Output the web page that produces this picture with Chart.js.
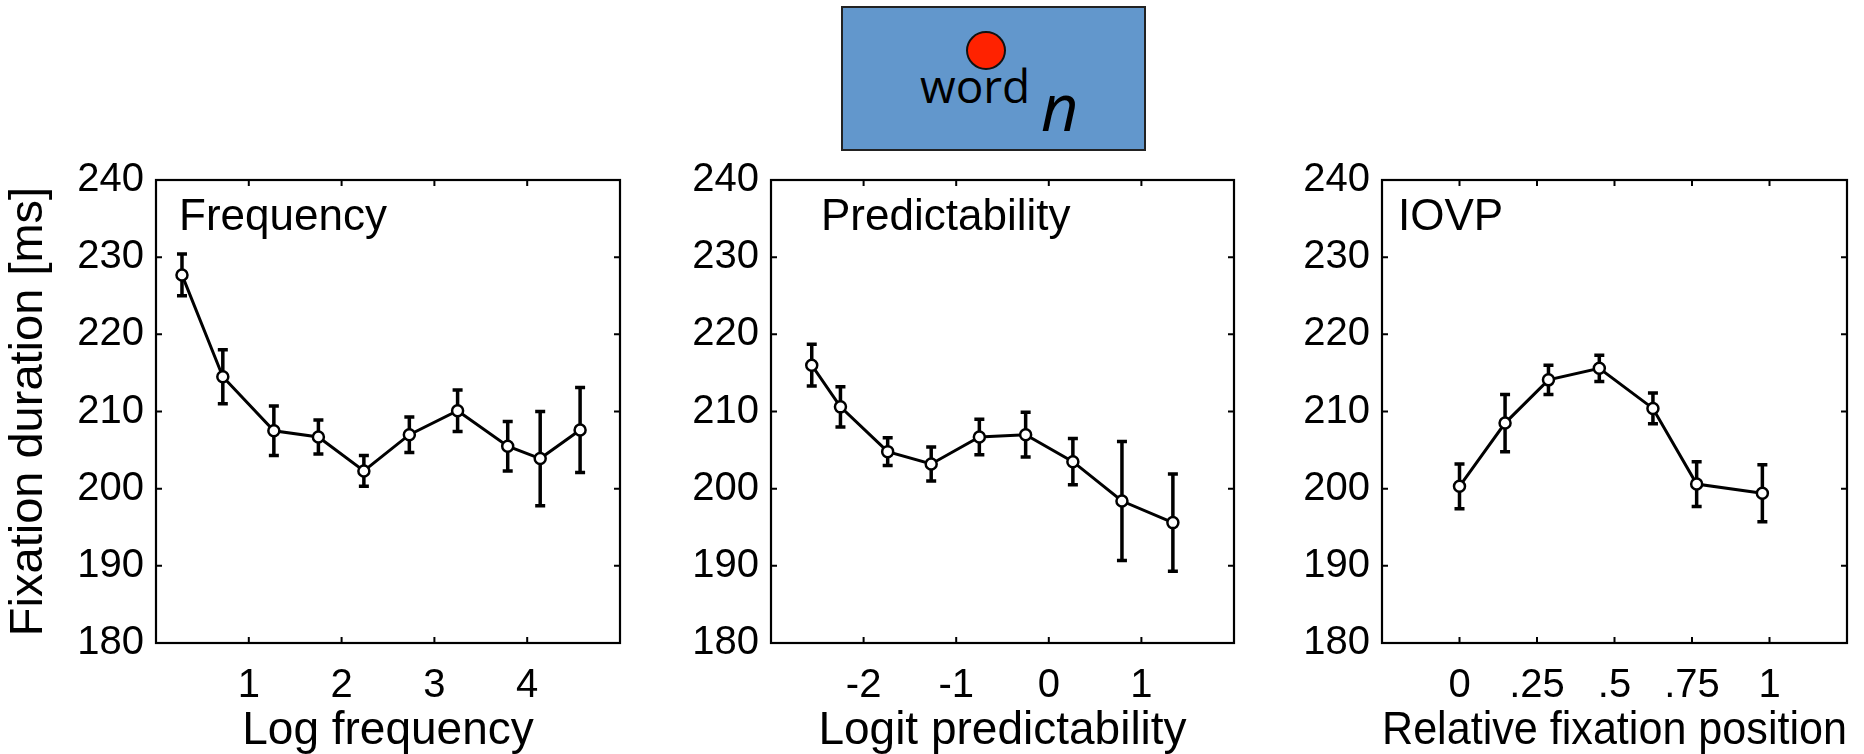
<!DOCTYPE html>
<html>
<head>
<meta charset="utf-8">
<script src="https://cdn.jsdelivr.net/npm/chart.js@4.4.1/dist/chart.umd.min.js"></script>
<style>
  html, body { margin:0; padding:0; background:#fff; width:1864px; height:754px; overflow:hidden; }
  body { position:relative; font-family:'Liberation Sans', Arial, sans-serif; }
  .panel { position:absolute; top:130px; height:624px; }
  .panel canvas { display:block; }
  #wordbox { position:absolute; left:841px; top:6px; width:305px; height:145px; box-sizing:border-box;
             background:#6297CC; border:2px solid #222; }
  #dot { position:absolute; left:966px; top:31px; width:40px; height:39px; box-sizing:border-box;
         border-radius:50%; background:#FF2200; border:2px solid #111; }
  #word { position:absolute; left:920px; top:62px; font-family:'Open Sans', 'Noto Sans', sans-serif;
          font-size:46px; line-height:1; color:#000; white-space:nowrap; }
  #wordn { position:absolute; left:1041px; top:74px; font-family:'Open Sans', 'Noto Sans', sans-serif;
           font-style:italic; font-size:65px; line-height:1; color:#000; }
</style>
</head>
<body>
<div id="wordbox"></div>
<div id="dot"></div>
<div id="word">word</div>
<div id="wordn">n</div>

<div class="panel" style="left:0px;width:640px;"><canvas id="c1" width="640" height="624"></canvas></div>
<div class="panel" style="left:640px;width:620px;"><canvas id="c2" width="620" height="624"></canvas></div>
<div class="panel" style="left:1260px;width:604px;"><canvas id="c3" width="604" height="624"></canvas></div>

<script>
// ---------- DATA ----------
const yTicks = [180, 190, 200, 210, 220, 230, 240];
const yTitle = 'Fixation duration [ms]';

// Panel 1: Frequency
const freqTitle = 'Frequency';
const freqAxisTitle = 'Log frequency';
const freqTickValues = [1, 2, 3, 4];
const freqTickLabels = ['1', '2', '3', '4'];
const freqX   = [0.28, 0.72, 1.27, 1.75, 2.24, 2.73, 3.25, 3.79, 4.14, 4.57];
const freqY   = [227.7, 214.5, 207.5, 206.7, 202.3, 207.0, 210.1, 205.5, 203.9, 207.6];
const freqErr = [2.7, 3.5, 3.2, 2.2, 2.0, 2.3, 2.7, 3.2, 6.1, 5.5];

// Panel 2: Predictability
const predTitle = 'Predictability';
const predAxisTitle = 'Logit predictability';
const predTickValues = [-2, -1, 0, 1];
const predTickLabels = ['-2', '-1', '0', '1'];
const predX   = [-2.56, -2.25, -1.74, -1.27, -0.75, -0.25, 0.26, 0.79, 1.34];
const predY   = [216.0, 210.6, 204.8, 203.2, 206.7, 207.0, 203.5, 198.4, 195.6];
const predErr = [2.7, 2.6, 1.8, 2.2, 2.3, 2.9, 3.0, 7.7, 6.3];

// Panel 3: IOVP
const iovpTitle = 'IOVP';
const iovpAxisTitle = 'Relative fixation position';
const iovpTickValues = [0, 0.25, 0.5, 0.75, 1];
const iovpTickLabels = ['0', '.25', '.5', '.75', '1'];
const iovpX   = [0.0, 0.147, 0.287, 0.451, 0.624, 0.765, 0.977];
const iovpY   = [200.3, 208.5, 214.1, 215.6, 210.4, 200.6, 199.4];
const iovpErr = [2.9, 3.7, 1.9, 1.7, 2.0, 2.9, 3.7];

// ---------- STYLE / PLUGINS ----------
Chart.defaults.font.family = "'Liberation Sans', Arial, sans-serif";
Chart.defaults.color = '#000';

const errorBars = {
  id: 'errorBars',
  beforeDatasetsDraw(chart) {
    const ctx = chart.ctx;
    const xs = chart.scales.x, ys = chart.scales.y;
    chart.data.datasets.forEach(ds => {
      const errs = ds.errors || [];
      ctx.save();
      ctx.strokeStyle = '#000';
      ctx.lineWidth = 3.5;
      ds.data.forEach((p, i) => {
        const e = errs[i];
        const px = xs.getPixelForValue(p.x);
        const top = ys.getPixelForValue(p.y + e);
        const bot = ys.getPixelForValue(p.y - e);
        ctx.beginPath();
        ctx.moveTo(px, top); ctx.lineTo(px, bot);
        ctx.moveTo(px - 5, top); ctx.lineTo(px + 5, top);
        ctx.moveTo(px - 5, bot); ctx.lineTo(px + 5, bot);
        ctx.stroke();
      });
      ctx.restore();
    });
  }
};

const frameBox = {
  id: 'frameBox',
  afterDraw(chart, args, opts) {
    const ctx = chart.ctx;
    const a = chart.chartArea;
    const xs = chart.scales.x, ys = chart.scales.y;
    ctx.save();
    ctx.strokeStyle = '#000';
    ctx.lineWidth = 2.2;
    ctx.strokeRect(a.left, a.top, a.right - a.left, a.bottom - a.top);
    ctx.lineWidth = 2;
    const L = 6;
    ctx.beginPath();
    xs.ticks.forEach(t => {
      const x = xs.getPixelForValue(t.value);
      ctx.moveTo(x, a.bottom); ctx.lineTo(x, a.bottom - L);
      ctx.moveTo(x, a.top); ctx.lineTo(x, a.top + L);
    });
    ys.ticks.forEach(t => {
      const y = ys.getPixelForValue(t.value);
      ctx.moveTo(a.left, y); ctx.lineTo(a.left + L, y);
      ctx.moveTo(a.right, y); ctx.lineTo(a.right - L, y);
    });
    ctx.stroke();
    if (opts && opts.text) {
      ctx.fillStyle = '#000';
      ctx.font = "44px 'Liberation Sans', Arial, sans-serif";
      ctx.textBaseline = 'alphabetic';
      ctx.textAlign = 'left';
      ctx.fillText(opts.text, a.left + opts.dx, a.top + opts.dy);
    }
    ctx.restore();
  }
};

function makePanel(canvasId, cfg) {
  const points = cfg.xs.map((x, i) => ({ x: x, y: cfg.ys[i] }));
  return new Chart(document.getElementById(canvasId), {
    type: 'line',
    data: {
      datasets: [{
        data: points,
        errors: cfg.errs,
        borderColor: '#000',
        borderWidth: 3,
        backgroundColor: '#fff',
        pointRadius: 5.5,
        pointBorderWidth: 2.5,
        pointBackgroundColor: '#fff',
        pointBorderColor: '#000',
        tension: 0,
        fill: false
      }]
    },
    options: {
      responsive: false,
      animation: false,
      devicePixelRatio: 1,
      layout: { padding: { top: 50, right: cfg.padRight, left: 0, bottom: 0 } },
      plugins: {
        legend: { display: false },
        tooltip: { enabled: false },
        frameBox: { text: cfg.label, dx: cfg.labelDx, dy: 50 }
      },
      scales: {
        x: {
          type: 'linear',
          min: cfg.xmin, max: cfg.xmax,
          grid: { display: false, drawTicks: false, tickLength: 0 },
          border: { display: false },
          afterBuildTicks: s => { s.ticks = cfg.tickValues.map(v => ({ value: v })); },
          afterFit: s => { s.height = 111; },
          ticks: {
            font: { size: 40 },
            padding: 19,
            maxRotation: 0,
            autoSkip: false,
            callback: (v) => {
              const i = cfg.tickValues.findIndex(t => Math.abs(t - v) < 1e-9);
              return i >= 0 ? cfg.tickLabels[i] : '';
            }
          },
          title: { display: true, text: cfg.axisTitle, font: { size: 46, lineHeight: 1 }, padding: { top: 0, bottom: 0 } }
        },
        y: {
          min: 180, max: 240,
          grid: { display: false, drawTicks: false, tickLength: 0 },
          border: { display: false },
          afterBuildTicks: s => { s.ticks = yTicks.map(v => ({ value: v })); },
          afterFit: s => { s.width = cfg.yWidth; },
          ticks: { font: { size: 40 }, padding: 12, autoSkip: false },
          title: cfg.yTitle ? { display: true, text: cfg.yTitle, font: { size: 47 }, padding: { top: 1, bottom: 0 } } : { display: false }
        }
      }
    },
    plugins: [errorBars, frameBox]
  });
}

makePanel('c1', {
  xs: freqX, ys: freqY, errs: freqErr, xmin: 0, xmax: 5,
  tickValues: freqTickValues, tickLabels: freqTickLabels,
  axisTitle: freqAxisTitle, yTitle: yTitle, yWidth: 156, padRight: 20,
  label: freqTitle, labelDx: 23
});
makePanel('c2', {
  xs: predX, ys: predY, errs: predErr, xmin: -3, xmax: 2,
  tickValues: predTickValues, tickLabels: predTickLabels,
  axisTitle: predAxisTitle, yTitle: null, yWidth: 131, padRight: 26,
  label: predTitle, labelDx: 50
});
makePanel('c3', {
  xs: iovpX, ys: iovpY, errs: iovpErr, xmin: -0.25, xmax: 1.25,
  tickValues: iovpTickValues, tickLabels: iovpTickLabels,
  axisTitle: iovpAxisTitle, yTitle: null, yWidth: 122, padRight: 17,
  label: iovpTitle, labelDx: 16
});
</script>
</body>
</html>
